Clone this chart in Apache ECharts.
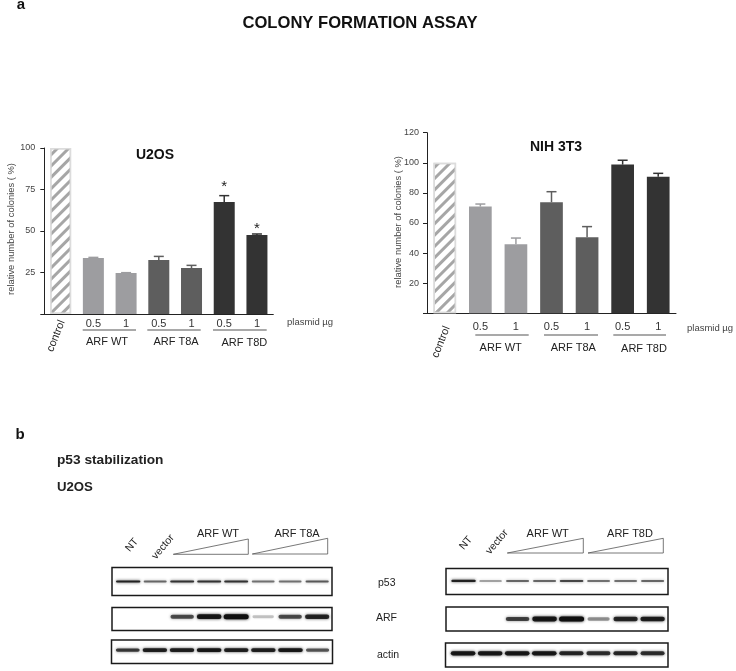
<!DOCTYPE html>
<html>
<head>
<meta charset="utf-8">
<style>
  html, body { margin: 0; padding: 0; background: #fff; }
  #chartsId { width: 736px; height: 671px; }
</style>
<script src="https://cdn.jsdelivr.net/npm/echarts@6/dist/echarts.min.js"></script>
</head>
<body>
<div id="chartsId"></div>
<script>
const categories = ['control', '0.5', '1', '0.5', '1', '0.5', '1'];
const yName = 'relative number of colonies ( %)';

// colony assay
const u2osValues = [100, 33.7, 24.7, 32.5, 27.7, 67.5, 47.6];
const u2osErrTops = [100, 34.1, 24.9, 34.7, 29.3, 71.3, 48.2];
const u2osStarLevels = [null, null, null, null, null, 76.5, 51.2];
const nihValues = [100, 70.9, 45.8, 73.8, 50.5, 98.8, 90.8];
const nihErrTops = [100, 72.6, 50, 80.8, 57.6, 101.7, 93];
const nihStarLevels = [null, null, null, null, null, null, null];

// western blots, band strength per lane (0..1)
const lanes = [0, 1, 2, 3, 4, 5, 6, 7];
const blotLeftP53 = [0.85, 0.5, 0.75, 0.75, 0.75, 0.45, 0.45, 0.55];
const blotLeftArf = [0, 0, 0.6, 0.9, 1, 0.1, 0.6, 0.8];
const blotLeftActin = [0.7, 0.85, 0.85, 0.9, 0.85, 0.85, 0.9, 0.55];
const blotRightP53 = [0.85, 0.35, 0.5, 0.5, 0.65, 0.45, 0.45, 0.5];
const blotRightArf = [0, 0, 0.65, 0.9, 1, 0.3, 0.8, 0.85];
const blotRightActin = [0.9, 0.9, 0.9, 0.9, 0.8, 0.75, 0.8, 0.75];

const barColors = ['#ffffff', '#9d9da0', '#9d9da0', '#5e5e5e', '#5e5e5e', '#333333', '#333333'];
const font = 'Liberation Sans';

const grids = [];
const xAxes = [];
const yAxes = [];
const series = [];

function addBars(box, values, errTops, starLevels, yMax, yStep, barWidth, labelMargin, tickMargin, tickShift) {
  const i = grids.length;
  grids.push(box);
  xAxes.push({
    type: 'category',
    gridIndex: i,
    data: categories,
    axisTick: { show: false },
    axisLine: { lineStyle: { color: '#222', width: 1 } },
    axisLabel: {
      fontFamily: font,
      fontSize: 11,
      color: '#333',
      margin: labelMargin,
      interval: 0,
      formatter: (v) => (v === 'control' ? '' : v)
    }
  });
  yAxes.push({
    type: 'value',
    gridIndex: i,
    min: 0,
    max: yMax,
    interval: yStep,
    splitLine: { show: false },
    axisLine: { show: true, lineStyle: { color: '#222', width: 1 } },
    axisTick: { show: true, length: 4, lineStyle: { color: '#222' } },
    axisLabel: {
      fontFamily: font,
      fontSize: 9,
      color: '#444',
      margin: tickMargin,
      padding: [0, 0, tickShift, 0],
      formatter: (v) => (v === 0 ? '' : v)
    }
  });
  series.push({
    type: 'bar',
    xAxisIndex: i,
    yAxisIndex: i,
    barWidth: barWidth,
    data: values.map((v, k) => ({
      value: v,
      itemStyle: k === 0
        ? {
            color: '#fff',
            borderColor: '#dcdcdc',
            borderWidth: 1.5,
            decal: {
              symbol: 'rect',
              color: '#a6a6a6',
              dashArrayX: [1, 0],
              dashArrayY: [2.5, 4.5],
              rotation: -Math.PI / 4
            }
          }
        : { color: barColors[k] }
    }))
  });
  series.push({
    type: 'custom',
    xAxisIndex: i,
    yAxisIndex: i,
    silent: true,
    data: values.map((v, k) => [k, v, errTops[k], starLevels[k]]),
    renderItem: (params, api) => {
      const k = api.value(0);
      if (k === 0) return { type: 'group', children: [] };
      const low = api.coord([k, api.value(1)]);
      const high = api.coord([k, api.value(2)]);
      const st = { stroke: barColors[k], lineWidth: 1.5 };
      const kids = [
        { type: 'line', shape: { x1: low[0], y1: low[1], x2: high[0], y2: high[1] }, style: st },
        { type: 'line', shape: { x1: high[0] - 5, y1: high[1], x2: high[0] + 5, y2: high[1] }, style: st }
      ];
      if (starLevels[k] != null) {
        kids.push({
          type: 'text',
          style: {
            text: '*',
            x: high[0],
            y: api.coord([k, starLevels[k]])[1],
            align: 'center',
            verticalAlign: 'middle',
            fontFamily: font,
            fontSize: 15,
            fill: '#222'
          }
        });
      }
      return { type: 'group', children: kids };
    }
  });
}

function addBlot(box, strengths, bandPos, bandHeight, laneMin, laneMax) {
  const i = grids.length;
  grids.push(Object.assign({ show: true, borderColor: '#1a1a1a', borderWidth: 1.5, backgroundColor: '#fff' }, box));
  xAxes.push({ type: 'value', gridIndex: i, min: laneMin, max: laneMax, show: false });
  yAxes.push({ type: 'value', gridIndex: i, min: 0, max: 1, show: false });
  series.push({
    type: 'custom',
    xAxisIndex: i,
    yAxisIndex: i,
    silent: true,
    clip: true,
    data: lanes.map((l) => [l, bandPos, strengths[l]]),
    renderItem: (params, api) => {
      const s = api.value(2);
      if (s === 0) return { type: 'group', children: [] };
      const c = api.coord([api.value(0), api.value(1)]);
      const dark = 'rgba(15,15,15,' + Math.min(1, 0.15 + s * 0.85).toFixed(2) + ')';
      const w = 21 + s * 4;
      const h = bandHeight * (0.55 + s * 0.45);
      return {
        type: 'rect',
        shape: { x: c[0] - w / 2, y: c[1] - h / 2, width: w, height: h, r: h / 2 },
        style: { fill: dark, shadowBlur: 3, shadowColor: dark }
      };
    }
  });
}

addBars({ left: 44.3, top: 148, width: 229, height: 166 }, u2osValues, u2osErrTops, u2osStarLevels, 100, 25, 21, 4, 9, 4);
addBars({ left: 427, top: 132.7, width: 249, height: 180.6 }, nihValues, nihErrTops, nihStarLevels, 120, 20, 22.7, 8, 8, 0);

addBlot({ left: 112, top: 567.5, width: 220, height: 28 }, blotLeftP53, 0.5, 2.4, -0.6, 7.55);
addBlot({ left: 112, top: 607.5, width: 220, height: 23 }, blotLeftArf, 0.6, 5, -0.6, 7.55);
addBlot({ left: 111.5, top: 640, width: 221, height: 23.5 }, blotLeftActin, 0.57, 4, -0.6, 7.55);
addBlot({ left: 446, top: 568.5, width: 222, height: 26 }, blotRightP53, 0.52, 2.4, -0.65, 7.57);
addBlot({ left: 446, top: 607, width: 222, height: 24 }, blotRightArf, 0.5, 5, -0.65, 7.57);
addBlot({ left: 445.5, top: 643, width: 222.5, height: 24 }, blotRightActin, 0.57, 4.5, -0.65, 7.57);

function label(text, x, y, size, opts) {
  return {
    type: 'text',
    x: x,
    y: y,
    rotation: (opts && opts.rotation) || 0,
    style: {
      text: text,
      fontFamily: font,
      fontSize: size,
      fontWeight: (opts && opts.bold) ? 'bold' : 'normal',
      fill: (opts && opts.color) || '#222',
      align: (opts && opts.align) || 'center',
      verticalAlign: 'middle'
    }
  };
}

function rule(x1, x2, y) {
  return { type: 'line', shape: { x1: x1, y1: y, x2: x2, y2: y }, style: { stroke: '#555', lineWidth: 1.2 } };
}

function wedge(x1, x2, yLow, yHigh) {
  return {
    type: 'polygon',
    shape: { points: [[x1, yLow], [x2, yHigh], [x2, yLow]] },
    style: { fill: 'none', stroke: '#555', lineWidth: 0.8 }
  };
}

const deg = Math.PI / 180;
const graphicItems = [
  label('COLONY FORMATION ASSAY', 360, 23, 16.6, { bold: true, color: '#111' }),
  label('a', 21, 5, 15, { bold: true, color: '#111' }),
  label('b', 20, 435, 15, { bold: true, color: '#111' }),
  label('p53 stabilization', 57, 460, 13.7, { bold: true, align: 'left' }),
  label('U2OS', 57, 487, 13.2, { bold: true, align: 'left' }),

  label('U2OS', 155, 155, 14, { bold: true, color: '#111' }),
  label('NIH 3T3', 556, 147, 14, { bold: true, color: '#111' }),
  label(yName, 11, 229, 9.4, { rotation: 90 * deg, color: '#444' }),
  label(yName, 398, 222, 9.4, { rotation: 90 * deg, color: '#444' }),
  label('control', 56, 336, 11, { rotation: 68 * deg }),
  label('control', 441, 342, 11, { rotation: 68 * deg }),
  label('plasmid µg', 287, 322, 9.5, { align: 'left', color: '#444' }),
  label('plasmid µg', 687, 328, 9.5, { align: 'left', color: '#444' }),

  rule(82.7, 136, 330), rule(147.3, 200.7, 330), rule(213, 266.7, 330),
  label('ARF WT', 107, 342, 11), label('ARF T8A', 176, 342, 11), label('ARF T8D', 244.3, 343, 11),
  rule(475.3, 528.7, 335), rule(544, 598, 335), rule(613.3, 666, 335),
  label('ARF WT', 500.7, 347.5, 11), label('ARF T8A', 573.3, 347.5, 11), label('ARF T8D', 644, 349, 11),

  label('NT', 132, 545, 10.5, { rotation: 50 * deg }),
  label('vector', 163, 547, 10.5, { rotation: 50 * deg }),
  label('ARF WT', 218, 534, 11),
  label('ARF T8A', 297, 534, 11),
  wedge(173.3, 248.3, 554.3, 539),
  wedge(252.3, 327.7, 554, 538.3),
  label('NT', 466, 543, 10.5, { rotation: 50 * deg }),
  label('vector', 497, 542, 10.5, { rotation: 50 * deg }),
  label('ARF WT', 547.7, 534, 11),
  label('ARF T8D', 630, 534, 11),
  wedge(507.3, 583.3, 553, 538.3),
  wedge(588, 663.3, 553, 538.3),
  label('p53', 378, 583, 10.5, { align: 'left' }),
  label('ARF', 376, 618, 10.5, { align: 'left' }),
  label('actin', 377, 655, 10.5, { align: 'left' })
];

const option = {
  animation: false,
  backgroundColor: '#fff',
  grid: grids,
  xAxis: xAxes,
  yAxis: yAxes,
  series: series,
  graphic: graphicItems
};

const myChart = echarts.init(document.getElementById('chartsId'));
myChart.setOption(option);
</script>
</body>
</html>
